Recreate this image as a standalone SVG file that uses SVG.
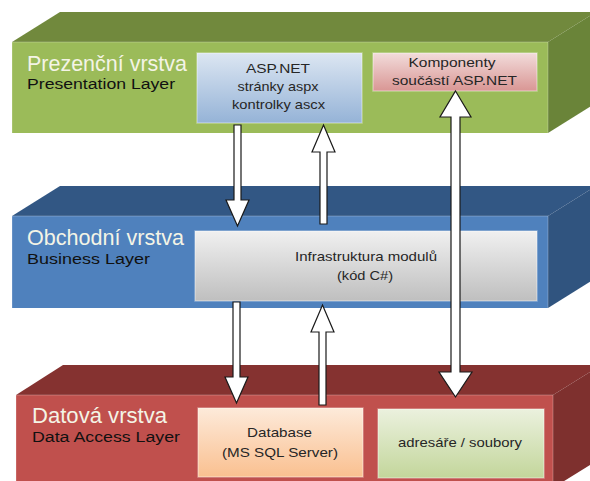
<svg xmlns="http://www.w3.org/2000/svg" width="590" height="481" viewBox="0 0 590 481">
  <defs>
    <linearGradient id="gBlue" x1="0" y1="0" x2="0" y2="1">
      <stop offset="0" stop-color="#DCE6F2"/>
      <stop offset="1" stop-color="#95B3D7"/>
    </linearGradient>
    <linearGradient id="gPink" x1="0" y1="0" x2="0" y2="1">
      <stop offset="0" stop-color="#F2DCDB"/>
      <stop offset="1" stop-color="#D99694"/>
    </linearGradient>
    <linearGradient id="gGray" x1="0" y1="0" x2="0" y2="1">
      <stop offset="0" stop-color="#F0F0F0"/>
      <stop offset="1" stop-color="#BFBFBF"/>
    </linearGradient>
    <linearGradient id="gOrange" x1="0" y1="0" x2="0" y2="1">
      <stop offset="0" stop-color="#FDEADA"/>
      <stop offset="1" stop-color="#FAC090"/>
    </linearGradient>
    <linearGradient id="gGreen" x1="0" y1="0" x2="0" y2="1">
      <stop offset="0" stop-color="#EBF1DE"/>
      <stop offset="1" stop-color="#C3D69B"/>
    </linearGradient>
    <style>
      .title { font-family: "Liberation Sans", Arial, sans-serif; font-size: 22px; fill: #F4F4E6; }
      .sub { font-family: "Liberation Sans", Arial, sans-serif; font-size: 15.5px; fill: #111; }
      .lbl { font-family: "Liberation Sans", Arial, sans-serif; font-size: 13px; fill: #262626; text-anchor: middle; }
      .box { stroke: #FFFFFF; stroke-opacity: 0.35; stroke-width: 1.5; }
      .edge { fill: none; stroke: #FFFFFF; stroke-opacity: 0.25; stroke-width: 1; }
      .arrow { fill: #FFFFFF; stroke: #1A1A1A; stroke-width: 1.2; stroke-linejoin: miter; }
    </style>
  </defs>

  <!-- Presentation layer slab -->
  <g id="layer-presentation">
    <polygon points="12,42 60,12 596,12 548,42" fill="#71893D"/>
    <polygon points="548,42 596,12 596,103 548,133" fill="#6A8439"/>
    <rect x="12" y="42" width="536" height="91" fill="#9BBB59"/>
    <polyline class="edge" points="12,133 12,42 548,42 548,133"/>
    <text class="title" x="27" y="71" textLength="160" lengthAdjust="spacingAndGlyphs">Prezenční vrstva</text>
    <text class="sub" x="27" y="89" textLength="148" lengthAdjust="spacingAndGlyphs">Presentation Layer</text>
  </g>

  <!-- Business layer slab -->
  <g id="layer-business">
    <polygon points="12,216 60,186 596,186 548,216" fill="#325784"/>
    <polygon points="548,216 596,186 596,278 548,308" fill="#30547F"/>
    <rect x="12" y="216" width="536" height="92" fill="#4F81BD"/>
    <polyline class="edge" points="12,308 12,216 548,216 548,308"/>
    <text class="title" x="27" y="245" textLength="157" lengthAdjust="spacingAndGlyphs">Obchodní vrstva</text>
    <text class="sub" x="27" y="264" textLength="123" lengthAdjust="spacingAndGlyphs">Business Layer</text>
  </g>

  <!-- Data access layer slab -->
  <g id="layer-data">
    <polygon points="16,395 63,365 601,365 553,395" fill="#853230"/>
    <polygon points="553,395 601,365 601,458 553,488" fill="#7E302E"/>
    <rect x="16" y="395" width="537" height="93" fill="#C0504D"/>
    <polyline class="edge" points="16,488 16,395 553,395 553,488"/>
    <text class="title" x="32" y="423" textLength="135" lengthAdjust="spacingAndGlyphs">Datová vrstva</text>
    <text class="sub" x="32" y="442" textLength="148" lengthAdjust="spacingAndGlyphs">Data Access Layer</text>
  </g>

  <!-- Components inside the layers -->
  <g id="node-aspnet">
    <rect class="box" x="197" y="53" width="165" height="70" fill="url(#gBlue)"/>
    <text class="lbl" x="278" y="73" textLength="64" lengthAdjust="spacingAndGlyphs">ASP.NET</text>
    <text class="lbl" x="278" y="91" textLength="81" lengthAdjust="spacingAndGlyphs">stránky aspx</text>
    <text class="lbl" x="278.5" y="109" textLength="93" lengthAdjust="spacingAndGlyphs">kontrolky ascx</text>
  </g>

  <g id="node-komponenty">
    <rect class="box" x="373" y="53" width="164" height="38" fill="url(#gPink)"/>
    <text class="lbl" x="452" y="67" textLength="87" lengthAdjust="spacingAndGlyphs">Komponenty</text>
    <text class="lbl" x="454.5" y="85" textLength="125" lengthAdjust="spacingAndGlyphs">součástí ASP.NET</text>
  </g>

  <g id="node-infrastruktura">
    <rect class="box" x="195" y="231" width="342" height="70" fill="url(#gGray)"/>
    <text class="lbl" x="366" y="261" textLength="142" lengthAdjust="spacingAndGlyphs">Infrastruktura modulů</text>
    <text class="lbl" x="365" y="280" textLength="56" lengthAdjust="spacingAndGlyphs">(kód C#)</text>
  </g>

  <g id="node-database">
    <rect class="box" x="198" y="408" width="165" height="69" fill="url(#gOrange)"/>
    <text class="lbl" x="279.5" y="437" textLength="65" lengthAdjust="spacingAndGlyphs">Database</text>
    <text class="lbl" x="280" y="457" textLength="116" lengthAdjust="spacingAndGlyphs">(MS SQL Server)</text>
  </g>

  <g id="node-soubory">
    <rect class="box" x="378" y="409" width="166" height="69" fill="url(#gGreen)"/>
    <text class="lbl" x="460" y="447" textLength="124" lengthAdjust="spacingAndGlyphs">adresáře / soubory</text>
  </g>

  <!-- Block arrows between components -->
  <g id="connectors">
    <polygon class="arrow" points="234,125 241,125 241,200 249,200 237.5,226 226,200 234,200"/>
    <polygon class="arrow" points="323.5,125 335,152 327,152 327,224 320,224 320,152 312,152"/>
    <polygon class="arrow" points="233,302 240,302 240,377 248,377 236.5,403 225,377 233,377"/>
    <polygon class="arrow" points="322.5,305 334,332 326,332 326,405 319,405 319,332 311,332"/>
    <polygon class="arrow" points="455.5,91 471,117 460,117 460,372 472,372 455.5,397 439,372 451,372 451,117 440,117"/>
  </g>
</svg>
